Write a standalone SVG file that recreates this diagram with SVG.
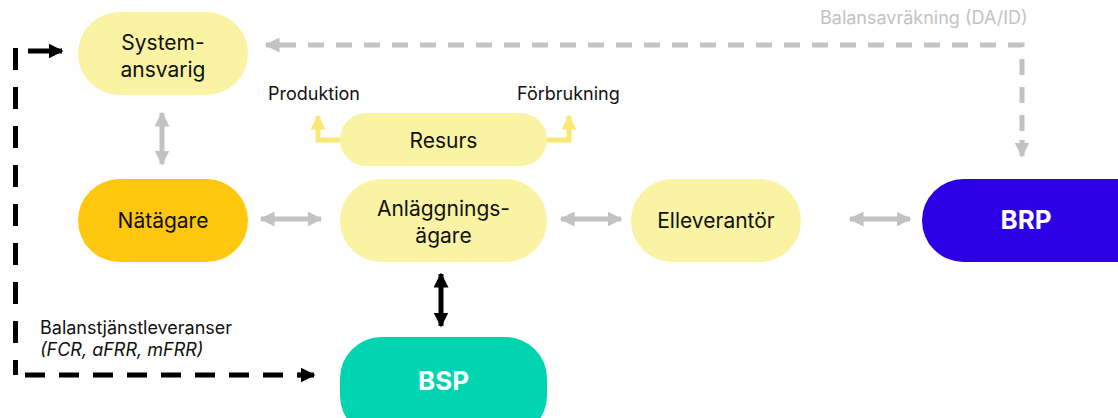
<svg xmlns="http://www.w3.org/2000/svg" width="1118" height="418" viewBox="0 0 1118 418">
<defs>
<style>
.lbl{font-family:Inter,"Liberation Sans",sans-serif;font-size:21px;fill:#111;text-anchor:middle}
.small{font-family:Inter,"Liberation Sans",sans-serif;font-size:18px;fill:#111}
.white{font-family:Inter,"Liberation Sans",sans-serif;font-size:26px;font-weight:700;fill:#fff;text-anchor:middle}
.gray{stroke:#c2c2c2;stroke-width:5;fill:none}
.blk{stroke:#000;stroke-width:5;fill:none}
.yel{stroke:#fce774;stroke-width:5;fill:none}
</style>
<marker id="ag" viewBox="0 0 10 10" refX="9" refY="5" markerWidth="3" markerHeight="3" orient="auto-start-reverse" markerUnits="strokeWidth"><path d="M0,0L10,5L0,10z" fill="#c2c2c2"/></marker>
<marker id="ab" viewBox="0 0 10 10" refX="9" refY="5" markerWidth="3" markerHeight="3" orient="auto-start-reverse" markerUnits="strokeWidth"><path d="M0,0L10,5L0,10z" fill="#000"/></marker>
<marker id="ay" viewBox="0 0 10 10" refX="9" refY="5" markerWidth="3" markerHeight="3" orient="auto-start-reverse" markerUnits="strokeWidth"><path d="M0,0L10,5L0,10z" fill="#fce774"/></marker>
</defs>
<rect width="1118" height="418" fill="#fff"/>
<g id="connectors">
<path class="gray" d="M162,113V164" marker-start="url(#ag)" marker-end="url(#ag)"/>
<path class="gray" d="M261,219H321" marker-start="url(#ag)" marker-end="url(#ag)"/>
<path class="gray" d="M561,219H621" marker-start="url(#ag)" marker-end="url(#ag)"/>
<path class="gray" d="M850,219H910" marker-start="url(#ag)" marker-end="url(#ag)"/>
<path class="gray" d="M280,45H1022V140" stroke-dasharray="16,12"/>
<path class="gray" d="M1022,140V156" marker-end="url(#ag)"/>
<path class="gray" d="M280,45H266" marker-end="url(#ag)"/>
<path class="blk" d="M441,274V326" marker-start="url(#ab)" marker-end="url(#ab)"/>
<path class="blk" d="M15.5,48V375" stroke-dasharray="22,17"/>
<path class="blk" d="M25,375H300" stroke-dasharray="20,14"/>
<path class="blk" d="M298,375H314" marker-end="url(#ab)"/>
<path class="blk" d="M28,51H62" marker-end="url(#ab)"/>
<path class="yel" d="M340,140H318V116" marker-end="url(#ay)"/>
<path class="yel" d="M547,140H569V116" marker-end="url(#ay)"/>
</g>
<g id="systemansvarig"><rect x="78" y="12" width="170" height="83" rx="41.5" fill="#faf3a3"/><text class="lbl" x="163" y="50">System-</text><text class="lbl" x="163" y="77">ansvarig</text></g>
<g id="resurs"><rect x="340" y="113" width="207" height="53" rx="26.5" fill="#faf3a3"/><text class="lbl" x="443.5" y="147.5">Resurs</text></g>
<g id="natagare"><rect x="78" y="179" width="170" height="83" rx="41.5" fill="#ffc80f"/><text class="lbl" x="163" y="228">Nätägare</text></g>
<g id="anlaggningsagare"><rect x="340" y="179" width="207" height="83" rx="41.5" fill="#faf3a3"/><text class="lbl" x="443.5" y="216">Anläggnings-</text><text class="lbl" x="443.5" y="243">ägare</text></g>
<g id="elleverantor"><rect x="631" y="179" width="170" height="83" rx="41.5" fill="#faf3a3"/><text class="lbl" x="716" y="228">Elleverantör</text></g>
<g id="brp"><rect x="922" y="179" width="240" height="83" rx="41.5" fill="#2b00e6"/><text class="white" x="1026" y="229">BRP</text></g>
<g id="bsp"><rect x="340" y="337" width="207" height="100" rx="41.5" fill="#00d4b0"/><text class="white" x="443.5" y="390">BSP</text></g>
<g id="labels">
<text class="small" x="268" y="100">Produktion</text>
<text class="small" x="517" y="100">Förbrukning</text>
<text class="small" x="820" y="24" style="fill:#c2c2c2">Balansavräkning (DA/ID)</text>
<text class="small" x="40" y="334">Balanstjänstleveranser</text>
<text class="small" x="40" y="356" font-style="italic">(FCR, aFRR, mFRR)</text>
</g>
</svg>
